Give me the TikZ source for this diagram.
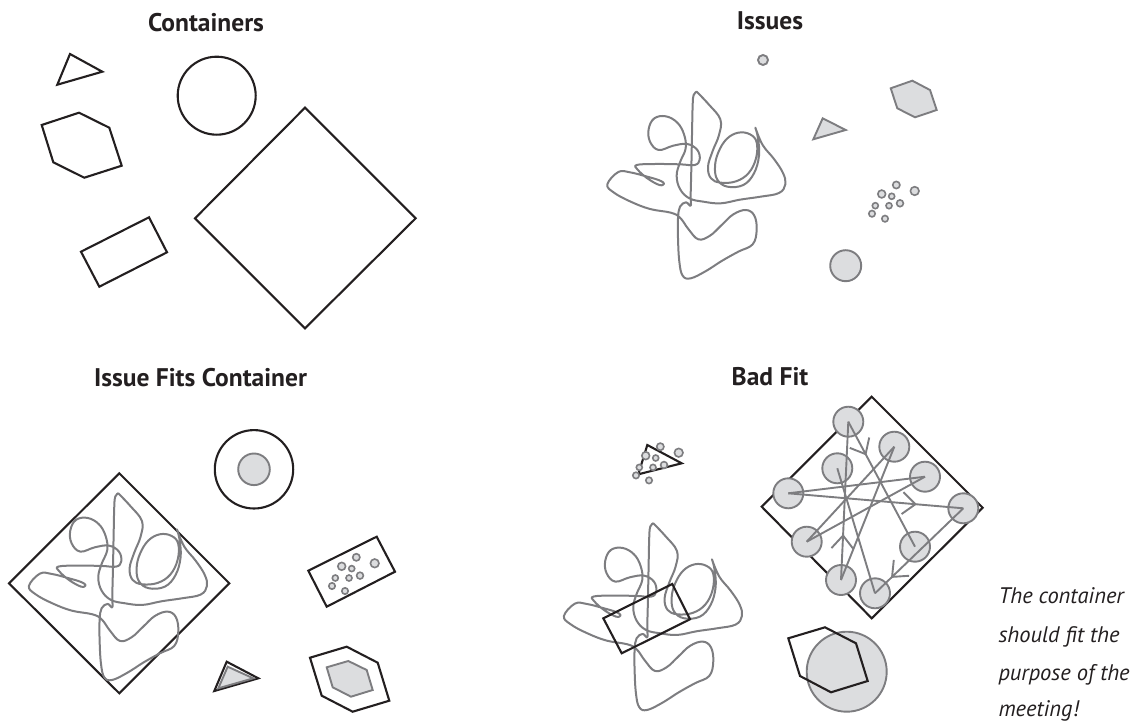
\documentclass[tikz,border=0pt]{standalone}
\usepackage{fontspec}
\setmainfont{PT Sans}
\usetikzlibrary{arrows.meta,decorations.markings}
\definecolor{ink}{RGB}{35,31,32}
\definecolor{issgray}{RGB}{125,125,128}
\definecolor{issfill}{RGB}{220,221,223}
\tikzset{
  cont/.style={draw=ink, line width=2.1pt, line join=miter},
  iss/.style={draw=issgray, line width=1.9pt, fill=issfill},
  scrib/.style={draw=issgray, line width=2pt, line cap=round, line join=round},
  title/.style={font=\fontsize{25.5}{28}\selectfont\bfseries, text=ink, anchor=base, inner sep=0pt},
  note/.style={font=\fontsize{22.5}{26}\selectfont\itshape, text=ink, anchor=base west, inner sep=0pt},
  ball/.style={circle, draw=issgray, fill=issfill, line width=1.9pt, minimum size=30pt, inner sep=0pt},
  link/.style={draw=issgray, line width=1.9pt},
  midarrow/.style={postaction={decorate}, decoration={markings, mark=at position #1 with {\arrow[issgray, line width=1.9pt]{Straight Barb[length=13pt,width=22pt]}}}},
  scribble/.pic={
    \draw[scrib, scale=1/3]
      plot[smooth, tension=0.65] coordinates {(290,20) (326,58) (361,103) (357,150) (338,198) (324,245) (333,280) (362,293) (408,289) (446,264) (468,220) (470,172) (450,148) (415,143) (380,162) (355,202) (345,245) (352,284) (382,305) (430,300) (462,265) (477,212) (474,160) (466,128)}
      plot[smooth, tension=0.65] coordinates {(466,128) (488,180) (522,222) (549,264) (556,298) (537,324) (482,335) (420,344) (362,355) (310,350) (268,340) (240,312) (230,272) (240,232) (257,190) (252,148) (232,113) (198,94) (163,100) (146,132) (150,170) (176,195) (220,182) (262,177) (292,195) (299,224) (284,240) (240,238) (165,237) (110,240) (113,254) (142,280) (178,300) (192,296) (178,286) (138,274) (90,262) (55,261) (22,298) (42,323) (92,350) (150,372) (212,383) (240,398) (265,432) (295,463) (330,452) (365,420) (400,388) (438,375) (463,392) (470,435) (458,478) (415,500) (365,528) (318,558) (272,580) (248,572) (238,530) (234,460) (234,400) (240,365) (258,352) (272,362) (272,330) (274,250) (276,150) (278,60) (281,30) (290,20)};
  },
  dots/.pic={
    \draw[iss, line width=1.6pt] (-18.4,-6) circle[radius=3.6];
    \draw[iss, line width=1.6pt] (0,0) circle[radius=4.3];
    \draw[iss, line width=1.6pt] (-33,3) circle[radius=3.9];
    \draw[iss, line width=1.6pt] (-23,5.3) circle[radius=3];
    \draw[iss, line width=1.6pt] (-39.4,14.7) circle[radius=3];
    \draw[iss, line width=1.6pt] (-25.7,14.7) circle[radius=3];
    \draw[iss, line width=1.6pt] (-14.7,12.3) circle[radius=3.4];
    \draw[iss, line width=1.6pt] (-42.7,22.7) circle[radius=3.2];
    \draw[iss, line width=1.6pt] (-29.7,27.7) circle[radius=3.2];
  }
}
\begin{document}
\begin{tikzpicture}[x=1pt, y=-1pt]
\useasboundingbox (0,0) rectangle (1135,722);

% ---------- Titles ----------
\node[title] (t1) at (206,31.7) {Containers};
\node[title] (t2) at (770,30) {Issues};
\node[title] (t3) at (200.5,386.7) {Issue Fits Container};
\node[title] (t4) at (770,385.7) {Bad Fit};

% ---------- Containers ----------
\draw[cont] (70,54) -- (102.3,71.7) -- (57.3,84.7) -- cycle;
\draw[cont] (216.7,95.7) circle[radius=39];
\draw[cont] (41.7,125) -- (79,112.7) -- (109.3,127.7) -- (121.7,165.7) -- (84.3,177.7) -- (53.3,162.3) -- cycle;
\draw[cont] (81,251.7) -- (149,217.3) -- (167,252.3) -- (99.3,286.7) -- cycle;
\draw[cont] (305,107.7) -- (415.7,218.3) -- (305,328.3) -- (195,218.3) -- cycle;

% ---------- Issues ----------
\pic at (600,85) {scribble};
\draw[iss] (763,60) circle[radius=5];
\draw[iss] (890.7,88.3) -- (912.3,80.7) -- (930,90) -- (936.7,110) -- (915,117.3) -- (897.3,108.3) -- cycle;
\draw[iss] (822.7,118.3) -- (845.7,130) -- (813.3,139.3) -- cycle;
\pic at (914.7,191) {dots};
\draw[iss] (845.7,265.7) circle[radius=15.5];

% ---------- Issue Fits Container ----------
\draw[cont] (119.3,473.3) -- (229.3,583.3) -- (119.3,693.3) -- (9,583.3) -- cycle;
\pic at (21.6,486.6) {scribble};
\draw[cont] (254,469.3) circle[radius=39.2];
\draw[iss] (254,469.3) circle[radius=15.8];
\draw[cont] (308.3,570.7) -- (376.7,536.7) -- (395,571.7) -- (326.7,606.7) -- cycle;
\pic at (374.7,563.3) {dots};
\draw[cont] (226.7,661.7) -- (258.3,678.3) -- (214.3,691) -- cycle;
\draw[iss] (227.7,666.7) -- (253.3,678.3) -- (218.3,688.3) -- cycle;
\draw[cont] (310,657.7) -- (346.7,646.7) -- (377.7,662.7) -- (389.3,700.7) -- (352.7,711.7) -- (321.7,695.7) -- cycle;
\draw[iss] (326.7,667.3) -- (348.3,661) -- (366.7,670) -- (372.7,690) -- (351,696.7) -- (332.7,687.3) -- cycle;

% ---------- Bad Fit ----------
\draw[cont] (647.3,445) -- (681.7,463.3) -- (638.3,474.3) -- cycle;
\pic at (678.7,452.7) {dots};
\pic at (556.6,516.6) {scribble};
\draw[cont] (603.3,618.3) -- (672.3,584) -- (690,619.3) -- (621.7,653.3) -- cycle;

\draw[cont] (871.7,396.7) -- (982.7,507.7) -- (871.7,618.3) -- (761.7,506.7) -- cycle;
\node[ball] (c1) at (848.3,421.7) {};
\node[ball] (c2) at (894.3,446.7) {};
\node[ball] (c3) at (837.3,468.3) {};
\node[ball] (c4) at (925,476.7) {};
\node[ball] (c5) at (788.3,493.3) {};
\node[ball] (c6) at (963.3,508.3) {};
\node[ball] (c7) at (806.7,541.7) {};
\node[ball] (c8) at (915,546.7) {};
\node[ball] (c9) at (841,580) {};
\node[ball] (c10) at (875,593.3) {};
\draw[link, midarrow=0.735] (c5.center) -- (c6.center);
\draw[link] (c5.center) -- (c4.center);
\draw[link] (c4.center) -- (c7.center);
\draw[link] (c7.center) -- (c2.center);
\draw[link] (c2.center) -- (c9.center);
\draw[link, midarrow=0.29] (c9.center) -- (c1.center);
\draw[link, midarrow=0.27] (c1.center) -- (c8.center);
\draw[link] (c3.center) -- (c10.center);
\draw[link, midarrow=0.82] (c6.center) -- (c10.center);

\draw[iss] (846.7,671.7) circle[radius=40];
\draw[cont] (788.3,638.3) -- (825,627.3) -- (856,643.3) -- (867.7,681) -- (831,692.3) -- (800,676) -- cycle;

% ---------- Note ----------
\node[note] (n1) at (998.3,603.3) {The container};
\node[note] (n2) at (998.3,642.7) {should fit the};
\node[note] (n3) at (998.3,680) {purpose of the};
\node[note] (n4) at (998.3,716.7) {meeting!};
\end{tikzpicture}
\end{document}
